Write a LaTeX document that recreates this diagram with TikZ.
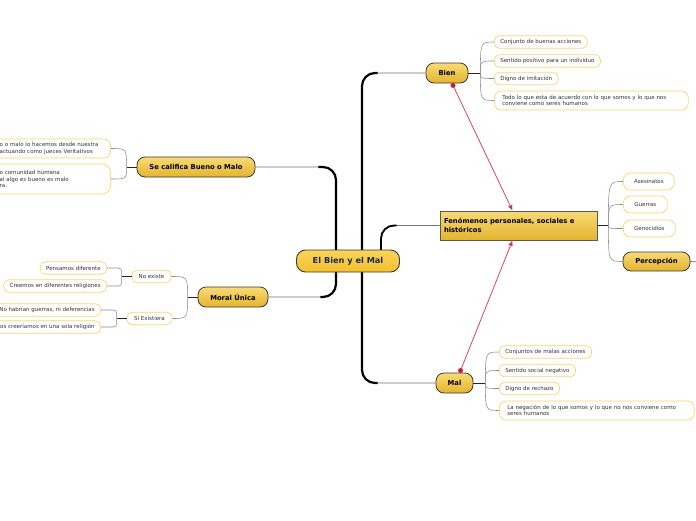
\documentclass[tikz,border=0pt]{standalone}
\usepackage{fontspec}
\setmainfont{DejaVu Sans}
\usetikzlibrary{arrows.meta,positioning,backgrounds}

\definecolor{rootTop}{HTML}{FBD45A}
\definecolor{rootBot}{HTML}{F4C02E}
\definecolor{rootInk}{HTML}{1B2A49}
\definecolor{goldTop}{HTML}{F8DA74}
\definecolor{goldBot}{HTML}{E4B42E}
\definecolor{inkDark}{HTML}{3A3A3A}
\definecolor{leafEdge}{HTML}{F7D66E}
\definecolor{leafInk}{HTML}{333333}
\definecolor{linkRed}{HTML}{D9475E}
\definecolor{linkDot}{HTML}{C41E3A}

\begin{document}
\begin{tikzpicture}[
    x=1pt, y=-1pt,
    font=\fontsize{5.5}{6.5}\selectfont,
    % Central theme
    rootnode/.style={draw=inkDark, line width=0.9pt, rounded corners=9pt,
                 top color=rootTop, bottom color=rootBot,
                 minimum width=103pt, minimum height=22pt, text=rootInk,
                 font=\bfseries\fontsize{8.2}{9.5}\selectfont},
    % Main topics
    topicnode/.style={draw=inkDark, line width=0.8pt, rounded corners=8pt,
                 top color=goldTop, bottom color=goldBot, minimum height=20pt,
                 inner xsep=4pt, font=\bfseries\fontsize{6.8}{8}\selectfont},
    boxnode/.style={draw=black!65, line width=0.8pt,
                 top color=goldTop, bottom color=goldBot,
                 minimum width=157pt, minimum height=29pt, text width=149pt,
                 inner xsep=4pt, align=left,
                 font=\bfseries\fontsize{6.8}{9}\selectfont},
    % Subtopics
    leaf/.style={draw=leafEdge, line width=0.7pt, fill=white,
                 rounded corners=5pt, minimum height=12.5pt,
                 inner xsep=6pt, inner ysep=1.5pt, text=leafInk, align=left},
    bigleaf/.style={leaf, rounded corners=7pt, minimum height=17pt, align=center},
    wideleaf/.style={leaf, rounded corners=7pt, minimum height=19pt, inner xsep=8pt},
    % Connectors
    trunk/.style={draw=black, line width=2.2pt, rounded corners=13pt},
    branch/.style={draw=black!55, line width=0.8pt, rounded corners=13pt},
    stub/.style={draw=black!85, line width=1pt},
    twig/.style={draw=black!45, line width=0.55pt},
    relation/.style={draw=linkRed, line width=0.8pt,
                 -{Latex[length=5.5pt,width=5pt,fill=linkDot]}},
    reldot/.style={fill=linkDot},
]
\begin{scope}[on background layer]
  \fill[white] (0,0) rectangle (696,520);
\end{scope}
\useasboundingbox (0,0) rectangle (696,520);

%% -- Central theme and main topics --
\node[rootnode]  (root)  at (348,261)     {El Bien y el Mal};
\node[topicnode, minimum width=42pt]  (bien)  at (447,73)  {Bien};
\node[topicnode, minimum width=37pt]  (mal)   at (454.5,383) {Mal};
\node[boxnode]   (fen)   at (518.5,225.5) {Fenómenos personales, sociales e\\históricos};
\node[topicnode, minimum width=118pt] (sec)   at (196,167) {Se califica Bueno o Malo};
\node[topicnode, minimum width=70pt]  (moral) at (233,297) {Moral Única};
\node[topicnode, minimum width=67pt, minimum height=19pt] (perc) at (656.5,261.5) {Percepción};

%% -- Bien --
\node[leaf, anchor=west] (bien1) at (494,42)   {Conjunto de buenas acciones};
\node[leaf, anchor=west] (bien2) at (494,61)   {Sentido positivo para un individuo};
\node[leaf, anchor=west] (bien3) at (494,78.5) {Digno de imitación};
\node[wideleaf, anchor=west, text width=178pt] (bien4) at (494,100.5)
     {Todo lo que esta de acuerdo con lo que somos y lo que nos\\conviene como seres humanos};

%% -- Mal --
\node[leaf, anchor=west] (mal1) at (499,352)   {Conjuntos de malas acciones};
\node[leaf, anchor=west] (mal2) at (499,370.5) {Sentido social negativo};
\node[leaf, anchor=west] (mal3) at (499,388.5) {Digno de rechazo};
\node[wideleaf, anchor=west, text width=179pt] (mal4) at (499,410.5)
     {La negación de lo que somos y lo que no nos conviene como\\seres humanos};

%% -- Fenómenos --
\node[bigleaf, anchor=west, minimum width=51pt] (fen1) at (623,181.5) {Asesinatos};
\node[bigleaf, anchor=west, minimum width=44pt] (fen2) at (623,204.5) {Guerras};
\node[bigleaf, anchor=west, minimum width=52pt] (fen3) at (623,228.5) {Genocidios};
\coordinate (percOut) at (700,262);

%% -- Se califica Bueno o Malo --
\node[leaf, anchor=east, text width=104pt, inner xsep=7pt, minimum height=19pt,
      rounded corners=7pt] (sec1) at (111,148.5)
     {o o malo lo hacemos desde nuestra\\ actuando como jueces Veritativos};
\node[leaf, anchor=east, text width=104pt, inner xsep=7pt, minimum height=30pt,
      rounded corners=9pt] (sec2) at (111,179)
     {o comunidad humana\\al algo es bueno es malo\\ra.};

%% -- Moral Única --
\node[leaf, minimum width=39pt] (noex) at (151.5,276.5) {No existe};
\node[leaf, minimum width=45pt] (siex) at (149.5,318.5) {Si Existiera};
\node[leaf, anchor=east] (noex1) at (107,268) {Pensamos diferente};
\node[leaf, anchor=east] (noex2) at (107,286) {Creemos en diferentes religiones};
\node[leaf, anchor=east] (siex1) at (101,310) {No habrían guerras, ni deferencias};
\node[leaf, anchor=east] (siex2) at (101,327) {os creeríamos en una sola religión};

%% -- Trunk from the central theme --
\coordinate (rtL) at (336,261);
\coordinate (rtR) at (362,261);
\coordinate (rtF) at (381,261);
\begin{scope}[on background layer]
  \draw[branch] (rtR) |- (bien.west);
  \draw[branch] (rtR) |- (mal.west);
  \draw[branch] (rtF) |- (fen.west);
  \draw[branch] (rtL) |- (sec.east);
  \draw[branch] (rtL) |- (moral.east);
  \draw[trunk, shorten >=48pt] (rtR) |- (bien.west);
  \draw[trunk, shorten >=58pt] (rtR) |- (mal.west);
  \draw[trunk, shorten >=43pt, line width=1.8pt] (rtF) |- (fen.west);
  \draw[trunk, shorten >=63pt] (rtL) |- (sec.east);
  \draw[trunk, shorten >=52pt] (rtL) |- (moral.east);
\end{scope}

%% -- Subtopic fans --
\draw[stub] (bien.east) -- ++(12,0) coordinate (bienJ);
\foreach \c in {bien1,bien2,bien3,bien4}
  \draw[twig] (bienJ) .. controls (bienJ |- \c.west) .. (\c.west);
\draw[stub] (mal.east) -- ++(12,0) coordinate (malJ);
\foreach \c in {mal1,mal2,mal3,mal4}
  \draw[twig] (malJ) .. controls (malJ |- \c.west) .. (\c.west);
\draw[stub] (fen.east) -- ++(11,0) coordinate (fenJ);
\foreach \c in {fen1,fen2,fen3,perc}
  \draw[twig] (fenJ) .. controls (fenJ |- \c.west) .. (\c.west);
\draw[branch] (perc.east) -- (percOut);
\draw[stub] (sec.west) -- ++(-10,0) coordinate (secJ);
\foreach \c in {sec1,sec2}
  \draw[twig] (secJ) .. controls (secJ |- \c.east) .. (\c.east);
\draw[stub] (moral.west) -- ++(-10,0) coordinate (moralJ);
\foreach \c in {noex,siex}
  \draw[twig] (moralJ) .. controls (moralJ |- \c.east) .. (\c.east);
\draw[stub] (noex.west) -- ++(-10,0) coordinate (noexJ);
\foreach \c in {noex1,noex2}
  \draw[twig, rounded corners=3pt] (noexJ) |- (\c.east);
\draw[stub] (siex.west) -- ++(-10,0) coordinate (siexJ);
\foreach \c in {siex1,siex2}
  \draw[twig, rounded corners=3pt] (siexJ) |- (\c.east);

%% -- Relations --
\draw[relation] ([xshift=6pt,yshift=-2pt]bien.south) coordinate (relA)
     -- ([xshift=-6pt]fen.north);
\draw[relation] ([xshift=6pt,yshift=2pt]mal.north) coordinate (relB)
     -- ([xshift=-6pt]fen.south);
\fill[reldot] (relA) circle (2.5pt);
\fill[reldot] (relB) circle (2.5pt);

\end{tikzpicture}
\end{document}
